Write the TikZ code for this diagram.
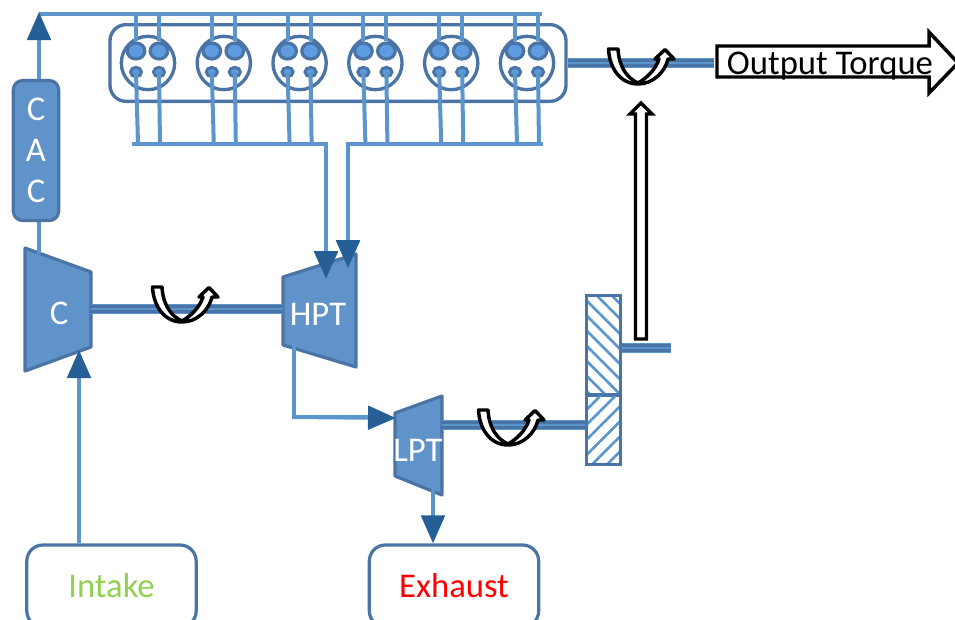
\documentclass[tikz,border=0pt]{standalone}
\usepackage{fontspec}
\setmainfont{Carlito}
\definecolor{partblue}{HTML}{5F93C9}
\definecolor{edgeblue}{HTML}{4A74A5}
\definecolor{pipeblue}{HTML}{5B95CC}
\definecolor{tipblue}{HTML}{265F96}
\definecolor{valveblue}{HTML}{5F9BE0}
\definecolor{intakegreen}{HTML}{92D050}
\usetikzlibrary{arrows.meta, positioning, calc, patterns.meta}
\tikzset{
  pipe/.style={draw=pipeblue, line width=3pt},
  flow/.style={pipe, -{Triangle[length=21pt, width=17.5pt, color=tipblue]}},
  shaft/.style={draw=pipeblue, line width=7.5pt, postaction={draw=edgeblue, line width=2.3pt, double=pipeblue, double distance=0.9pt}},
  part/.style={draw=edgeblue, fill=partblue, line width=2.4pt, line join=round},
  partlabel/.style={text=white, font=\fontsize{26}{30.5}\selectfont, inner sep=0pt, align=center},
  boxlabel/.style={draw=edgeblue, line width=2.4pt, rounded corners=12pt, minimum width=127pt, minimum height=61.5pt, font=\fontsize{26}{30}\selectfont},
  gearpart/.style={draw=edgeblue, line width=2.2pt, minimum width=25.5pt, inner sep=0pt},
  inletvalve/.style={circle, draw=edgeblue, fill=valveblue, line width=2.4pt, minimum width=12pt, inner sep=0pt, xscale=1.1},
  outletvalve/.style={circle, draw=edgeblue, fill=valveblue, line width=2.2pt, minimum width=7pt, inner sep=0pt, xscale=1.2},
  torquearrow/.style={draw=black, fill=white, line width=2.6pt, miter limit=10},
  pics/turnarrow/.style={code={
    \draw[torquearrow, line width=2.6pt, line join=round] (1.5,2) -- (11,2) .. controls (12,20) and (20,31) .. (31,36)
      .. controls (40,31) and (49,22) .. (52,12) -- (48,12) -- (58,2.5) -- (67,12) -- (61,12)
      .. controls (58,25) and (46,37) .. (31,37) .. controls (14,37) and (2.5,22) .. (1.5,2) -- cycle;
  }}
}

\begin{document}
\begin{tikzpicture}[x=0.75pt, y=-0.75pt]
  \clip (0,0) rectangle (955,619);

  % rails
  \coordinate (cacTip) at (39,14);
  \coordinate (intakeRail) at (542,14);
  \coordinate (exhLeft) at (132,144);
  \coordinate (exhLeftEnd) at (326,144);
  \coordinate (exhRight) at (348,144);
  \coordinate (exhRightEnd) at (543,144);
  \coordinate (hptInA) at (326,279);
  \coordinate (hptInB) at (348,268);

  % engine block
  \node[draw=edgeblue, line width=2.5pt, rounded corners=12pt, minimum width=342pt, minimum height=57.5pt] (block) at (338,63) {};
  \coordinate (crankEnd) at (714,63);
  \draw[shaft] (block.east) -- (crankEnd);

  % cylinders
  \foreach \i in {1,...,6} {
    \pgfmathsetmacro{\cx}{148+75.8*(\i-1)}
    \node[circle, draw=edgeblue, line width=2.5pt, minimum width=40pt, inner sep=0pt] (cyl\i) at (\cx,63) {};
    \node[inletvalve] (inA\i) at (\cx-12,51) {};
    \node[inletvalve] (inB\i) at (\cx+11,51) {};
    \node[outletvalve] (exA\i) at (\cx-12,72) {};
    \node[outletvalve] (exB\i) at (\cx+11,72) {};
    \draw[pipe] (inA\i) -- (inA\i |- intakeRail);
    \draw[pipe] (inB\i) -- (inB\i |- intakeRail);
    \draw[pipe] (exA\i.center) -- ($(exA\i |- exhLeft)+(2,0)$);
    \draw[pipe] (exB\i.center) -- ($(exB\i |- exhLeft)+(1,0)$);
  }

  % manifolds
  \draw[pipe] (intakeRail) -- (cacTip);
  \draw[flow] (exhLeft) -- (exhLeftEnd) -- (hptInA);
  \draw[flow] (exhRightEnd) -- (exhRight) -- (hptInB);

  % compressor, turbines
  \draw[part] (25,248) -- (91,272) -- (91,347) -- (25,371) -- cycle;
  \node[partlabel] (comp) at (59,313) {C};
  \coordinate (compTop) at (39,254);
  \coordinate (compIn) at (79,350);
  \coordinate (compShaft) at (91,309);

  % charge air cooler
  \draw[flow] (compTop) -- (39,12);
  \node[part, rounded corners=7pt, minimum width=34pt, minimum height=105pt, inner sep=0pt, partlabel] (cac) at (36,150.5) {\raisebox{-3pt}{C}\\\raisebox{-3pt}{A}\\\raisebox{-3pt}{C}};

  \draw[part] (283,277) -- (356,254) -- (356,367) -- (283,345) -- cycle;
  \node[partlabel] (hpt) at (318,314) {HPT};
  \coordinate (hptShaft) at (283,309);
  \draw[shaft] (compShaft) -- (hptShaft);
  \draw[flow] (hptInA |- exhLeft) -- (hptInA);
  \draw[flow] (hptInB |- exhRight) -- (hptInB);

  \draw[part] (395,413) -- (442,396) -- (442,495) -- (395,476) -- cycle;
  \node[partlabel] (lpt) at (418,450) {LPT};
  \coordinate (lptIn) at (396,418);
  \coordinate (hptOut) at (294,346);
  \coordinate (lptShaft) at (442,425);
  \coordinate (lptOut) at (433,478);
  \draw[pipe] (hptOut) -- (294,417) -- (369,417);
  \draw[flow] (294,417) -- (lptIn);

  % intake and exhaust boxes
  \node[boxlabel, text=intakegreen] (intake) at (111.5,586) {Intake};
  \node[boxlabel, text=red] (exhaust) at (454,586) {Exhaust};
  \draw[flow] (intake.north -| compIn) -- (compIn);
  \draw[flow] (lptOut) -- (lptOut |- exhaust.north);

  % gears
  \node[gearpart, minimum height=74.5pt, pattern={Lines[angle=-45, distance=8pt, line width=2pt]}, pattern color=pipeblue] (gearTop) at (603.5,345.5) {};
  \node[gearpart, minimum height=52pt, pattern={Lines[angle=45, distance=8pt, line width=2pt]}, pattern color=pipeblue] (gearBot) at (603.5,429.5) {};
  \draw[shaft] (lptShaft) -- (lptShaft -| gearBot.west);
  \coordinate (gearOut) at (671,348);
  \draw[shaft] (gearOut -| gearTop.east) -- (gearOut);

  % power transfer
  \draw[torquearrow] (635.5,339) -- (635.5,114) -- (630,114) -- (641,103) -- (652,114) -- (646.5,114) -- (646.5,339) -- cycle;
  \draw[torquearrow] (717,46) -- (929,46) -- (929,32) -- (958,63) -- (929,93) -- (929,77) -- (717,77) -- cycle;
  \node[font=\fontsize{26}{30}\selectfont, inner sep=0pt] (torque) at (830,66) {Output Torque};

  % rotation marks
  \pic at (151,285) {turnarrow};
  \pic at (477,408) {turnarrow};
  \pic at (607,47) {turnarrow};
\end{tikzpicture}
\end{document}
